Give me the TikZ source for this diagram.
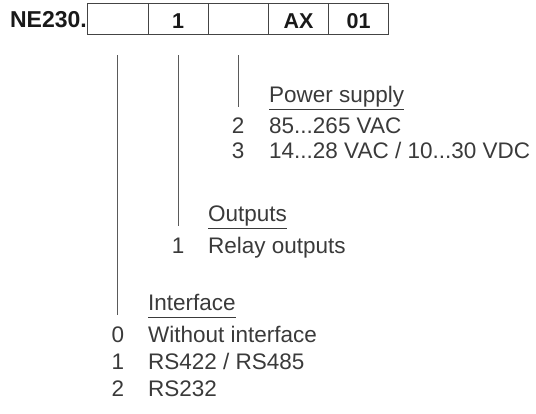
\documentclass[tikz,border=0pt]{standalone}
\usepackage{fontspec}
\setmainfont{Liberation Sans}
\usetikzlibrary{calc}
\definecolor{txt}{HTML}{3A3A3A}
\definecolor{ln}{HTML}{5A5A5A}
\definecolor{bx}{HTML}{444444}
\begin{document}
\begin{tikzpicture}[x=1pt,y=-1pt,
  lbl/.style={anchor=base west, inner sep=0pt, text=txt, font=\fontsize{22.5}{26}\selectfont},
  hdr/.style={lbl, text depth=6.5pt},
  num/.style={anchor=base, inner sep=0pt, text=txt, font=\fontsize{22.5}{26}\selectfont},
  cell/.style={draw=bx, line width=0.9pt, anchor=north west, minimum width=60.2pt, minimum height=31.3pt,
    inner sep=0pt, text height=19.5pt, text depth=0pt, text=black!90, font=\bfseries\fontsize{21.5}{24}\selectfont},
  lead/.style={draw=ln, line width=0.9pt},
  uline/.style={draw=txt, line width=0.9pt}]
\useasboundingbox (0,0) rectangle (536,414);
% code boxes
\node[cell] (c1) at (87.3,3) {};
\node[cell] (c2) at (147.5,3) {1};
\node[cell] (c3) at (207.7,3) {};
\node[cell] (c4) at (267.9,3) {AX};
\node[cell] (c5) at (328.1,3) {01};
\node[anchor=base east, inner sep=0pt, text=black!90, font=\bfseries\fontsize{23}{26}\selectfont] (ne) at (87,27.5) {NE230.};
% power supply
\node[hdr] (pw) at (269,103) {Power supply};
\node[num] (pn2) at (c3.center |- 0,134) {2};
\node[lbl] (pt2) at (269,134) {85...265 VAC};
\node[num] (pn3) at (c3.center |- 0,159) {3};
\node[lbl] (pt3) at (269,159) {14...28 VAC / 10...30 VDC};
% outputs
\node[hdr] (op) at (208,222) {Outputs};
\node[num] (on1) at (c2.center |- 0,254) {1};
\node[lbl] (ot1) at (208,254) {Relay outputs};
% interface
\node[hdr] (if) at (148,311) {Interface};
\node[num] (in0) at (c1.center |- 0,343) {0};
\node[lbl] (it0) at (148,343) {Without interface};
\node[num] (in1) at (c1.center |- 0,370) {1};
\node[lbl] (it1) at (148,370) {RS422 / RS485};
\node[num] (in2) at (c1.center |- 0,396) {2};
\node[lbl] (it2) at (148,396) {RS232};
% underlines
\draw[uline] (pw.south west) -- (pw.south east);
\draw[uline] (op.south west) -- (op.south east);
\draw[uline] (if.south west) -- (if.south east);
% leader lines
\draw[lead] ($(c3.south)+(0,20)$) -- ($(c3.south |- pw.base)+(0,4)$);
\draw[lead] ($(c2.south)+(0,20)$) -- ($(c2.south |- op.base)+(0,4)$);
\draw[lead] ($(c1.south)+(0,20)$) -- ($(c1.south |- if.base)+(0,4)$);
\end{tikzpicture}
\end{document}
